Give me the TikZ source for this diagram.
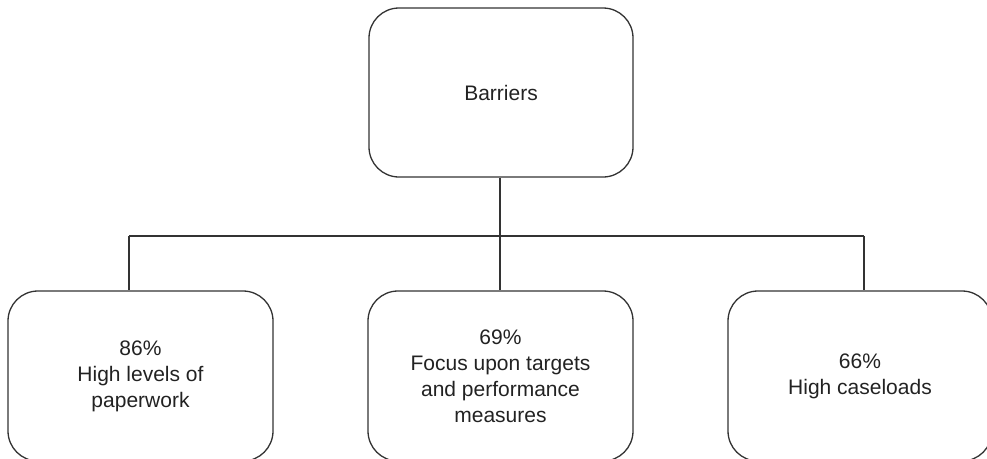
\documentclass[tikz,border=0pt]{standalone}
\usepackage{fontspec}
\setmainfont{Liberation Sans}
\definecolor{ink}{HTML}{333333}
\definecolor{txt}{HTML}{222222}
\begin{document}
\begin{tikzpicture}[x=1pt,y=-1pt,
  box/.style={draw=ink, line width=1.3pt, rounded corners=30pt, inner sep=0pt,
    minimum width=265pt, align=center, text=txt,
    font=\fontsize{21}{26}\selectfont},
  link/.style={draw=ink, line width=1.3pt}]
\useasboundingbox (0,0) rectangle (987,458);
\node[box, minimum width=264pt, minimum height=169pt] (top) at (501,92.5) {Barriers};
\node[box, minimum height=170pt] (left) at (140.5,376) {86\%\\High levels of\\paperwork};
\node[box, minimum height=170pt] (mid) at (500.5,376) {69\%\\Focus upon targets\\and performance\\measures};
\node[box, minimum height=170pt, minimum width=264pt] (right) at (860,376) {66\%\\High caseloads};
\coordinate (jl) at (129,236);
\coordinate (jm) at (500,236);
\coordinate (jr) at (864,236);
\draw[link] (jm |- top.south) -- (jm);
\draw[link] (jl) -- (jr);
\draw[link] (jl) -- (jl |- left.north);
\draw[link] (jm) -- (jm |- mid.north);
\draw[link] (jr) -- (jr |- right.north);
\end{tikzpicture}
\end{document}
